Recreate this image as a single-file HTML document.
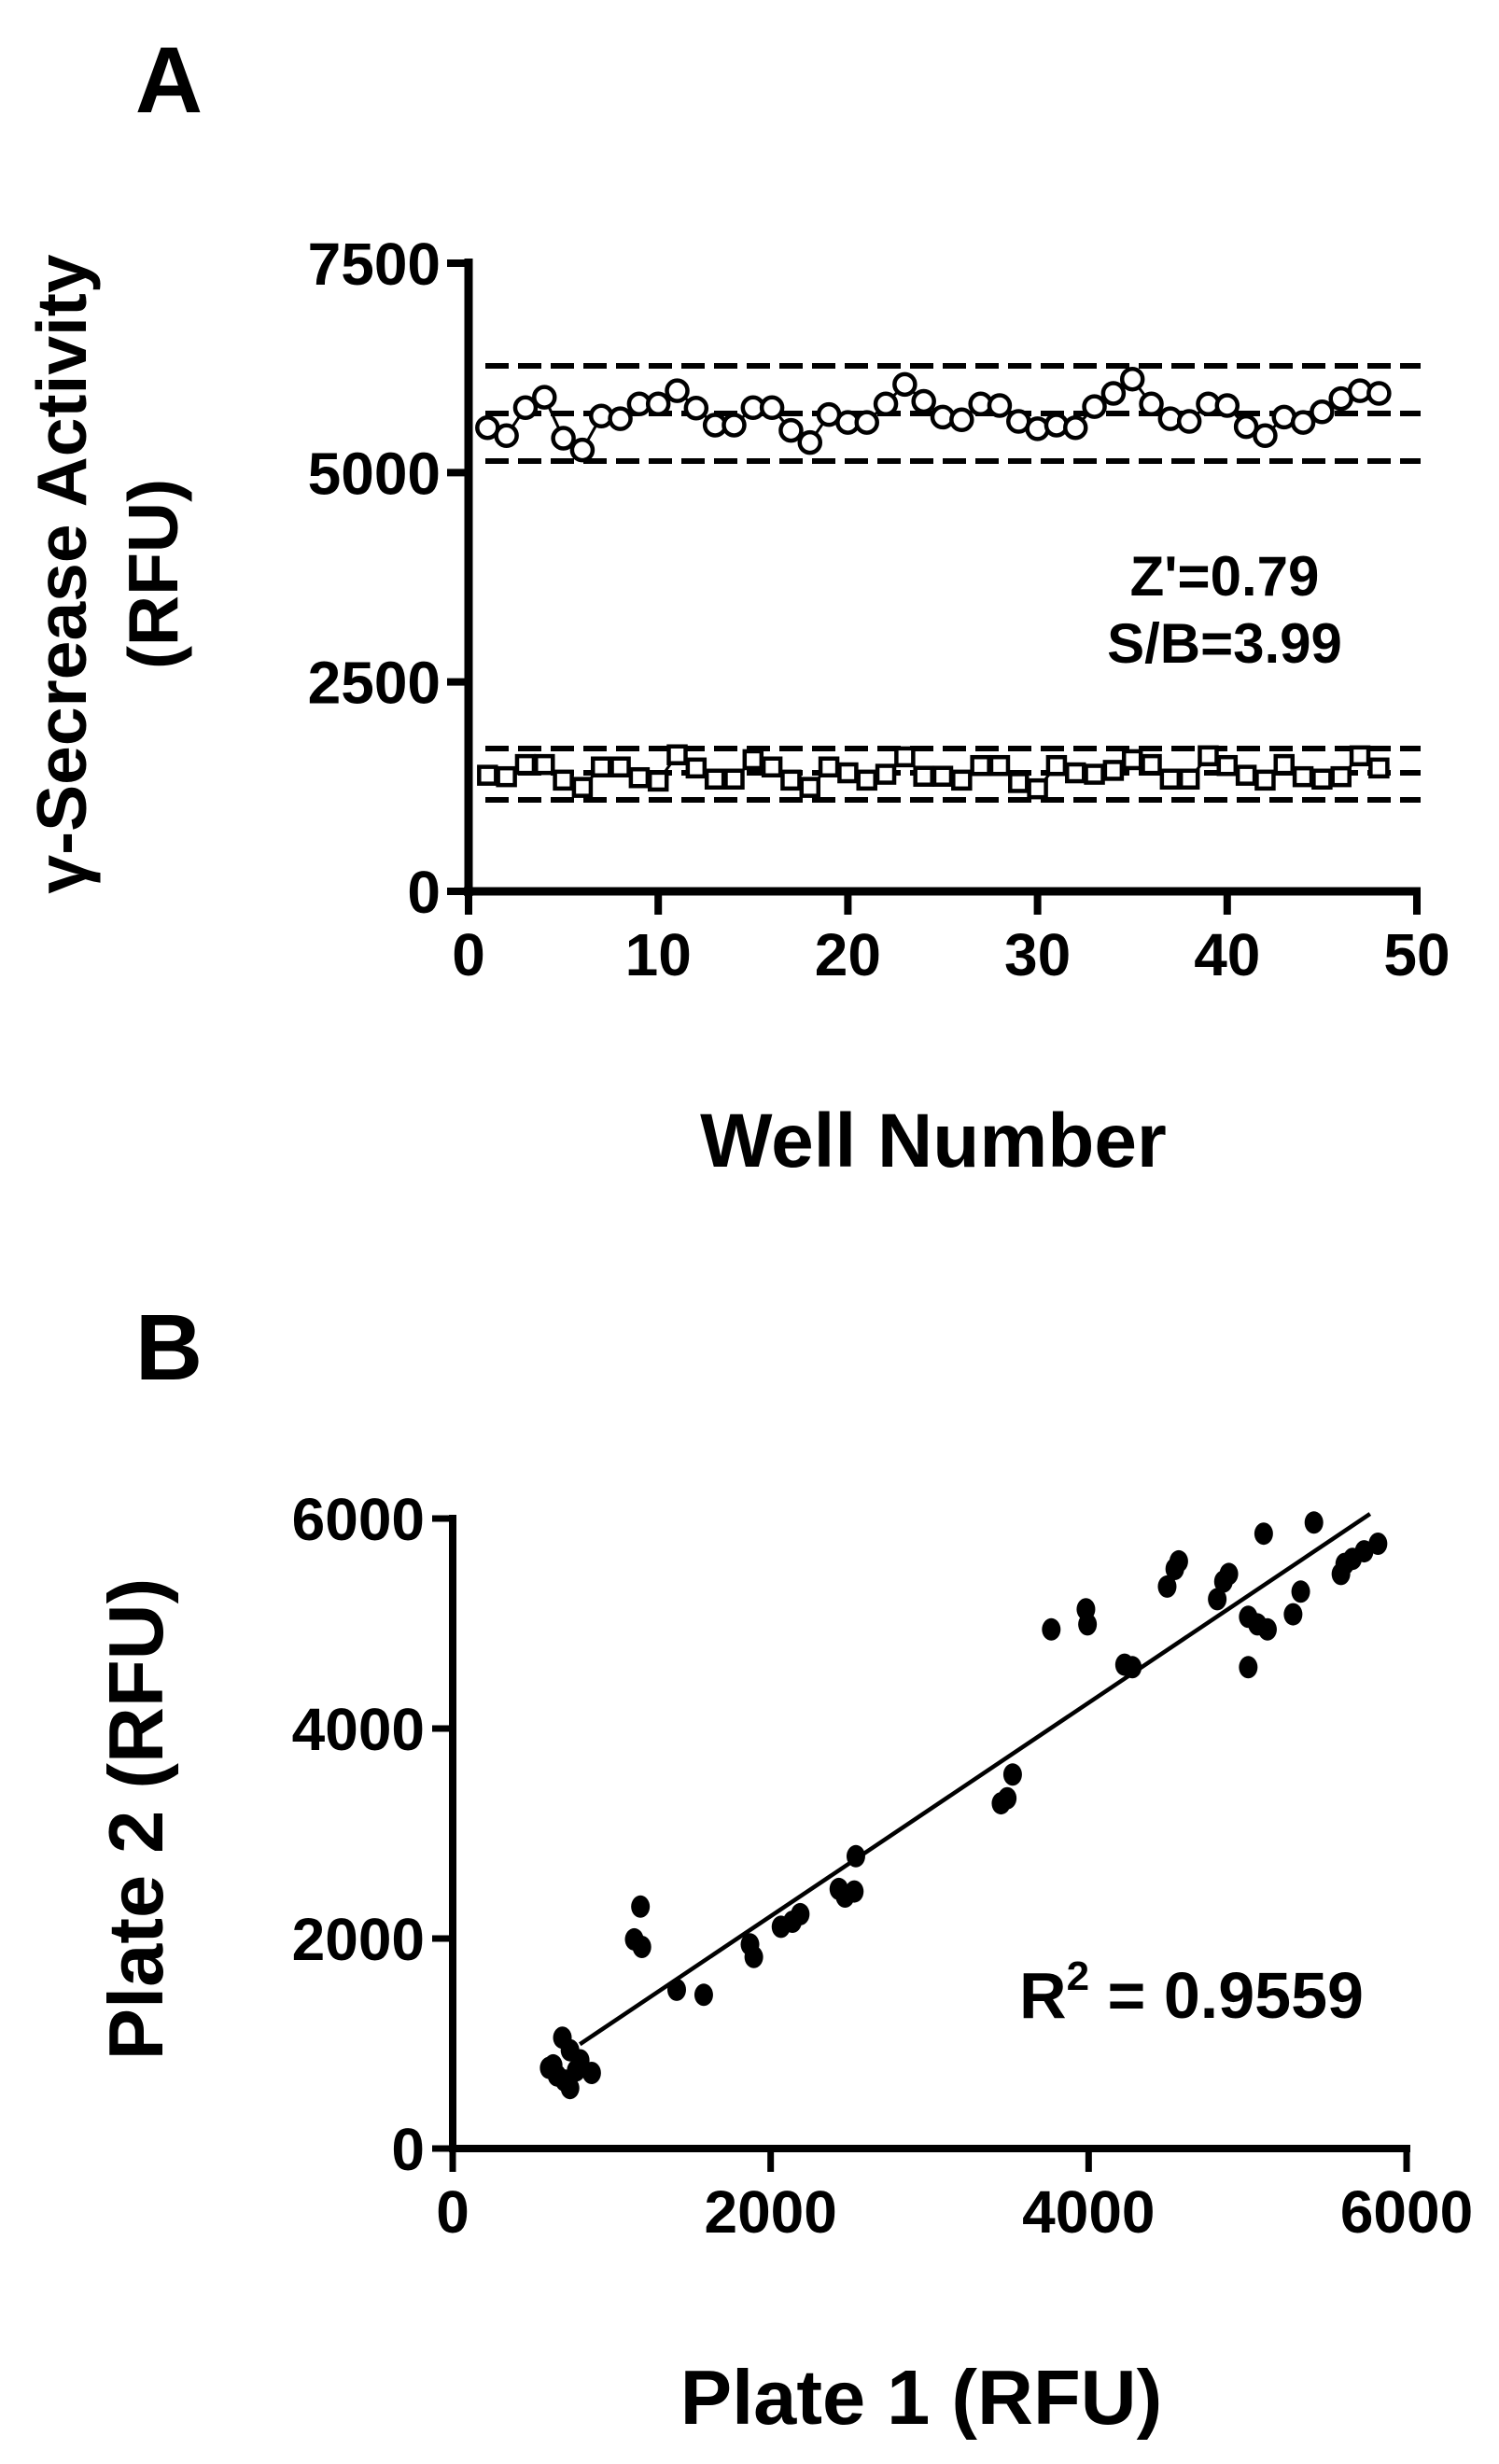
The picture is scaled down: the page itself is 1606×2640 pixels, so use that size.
<!DOCTYPE html>
<html><head><meta charset="utf-8"><style>
html,body{margin:0;padding:0;background:#fff;}
svg{display:block;font-family:"Liberation Sans",Arial,sans-serif;}
</style></head><body>
<svg id="fig" width="1606" height="2640" viewBox="0 0 1606 2640" xmlns="http://www.w3.org/2000/svg">
<g id="panelA"></g>
<g id="panelB"></g>
</svg>
<script>
// ---- Panel A data ----
const wells = [];
for (let i = 1; i <= 48; i++) wells.push(i);
const signalValues = [5536,5441,5775,5900,5410,5270,5675,5643,5820,5820,5977,5770,5567,5567,5775,5775,5504,5359,5693,5599,5599,5820,6053,5851,5662,5630,5820,5801,5611,5523,5567,5536,5788,5946,6116,5820,5643,5611,5820,5801,5548,5441,5662,5599,5725,5883,5977,5946];
const backgroundValues = [1386,1369,1514,1514,1328,1241,1485,1485,1357,1316,1630,1473,1340,1340,1572,1485,1328,1241,1485,1415,1328,1398,1606,1374,1374,1328,1502,1502,1299,1224,1502,1415,1398,1444,1572,1514,1340,1340,1618,1502,1386,1328,1514,1369,1340,1369,1618,1473];
const signalLimits = [6274,5706,5138];
const backgroundLimits = [1705,1415,1092];
const aYTicks = [0,2500,5000,7500];
const aXTicks = [0,10,20,30,40,50];
const aStats = ["Z'=0.79","S/B=3.99"];

// ---- Panel B data ----
const plate1 = [607,656,704,738,690,738,802,874,632,777,1142,1190,1181,1409,1579,1870,1894,2065,2137,2186,2429,2526,2536,2468,3449,3488,3522,3765,3983,3993,4226,4275,4494,4542,4567,4809,4848,4882,5004,5062,5125,5004,5101,5286,5334,5417,5587,5611,5660,5733,5820];
const plate2 = [768,696,648,576,1056,936,840,720,792,744,1992,1920,2304,1512,1464,1944,1824,2112,2160,2232,2472,2448,2784,2400,3288,3336,3562,4944,5136,4992,4608,4584,5352,5520,5592,5232,5400,5472,5064,4992,4944,4584,5856,5088,5304,5962,5472,5568,5616,5688,5760];
const fitRange = [800,5770];
const bTicks = [0,2000,4000,6000];
const rSquared = "0.9559";

const NS = "http://www.w3.org/2000/svg";
function mk(parent, tag, attrs, text) {
  const e = document.createElementNS(NS, tag);
  for (const k in attrs) e.setAttribute(k, attrs[k]);
  if (text !== undefined) e.textContent = text;
  parent.appendChild(e);
  return e;
}

// ===== Panel A =====
const A = document.getElementById('panelA');
const axA = v => 502 + (v / 50) * 1016;
const ayA = v => 955 - (v / 7500) * 673;

let t = mk(A, 'text', {x: 181, y: 120, 'font-size': 100, 'font-weight': 'bold', 'text-anchor': 'middle'}, 'A');



t = mk(A, 'text', {x: 0, y: 0, 'font-size': 75, 'font-weight': 'bold', 'text-anchor': 'middle', transform: 'translate(92,615) rotate(-90)'}, 'γ-Secrease Activity');


t = mk(A, 'text', {x: 0, y: 0, 'font-size': 75, 'font-weight': 'bold', 'text-anchor': 'middle', transform: 'translate(190,615) rotate(-90)'}, '(RFU)');



t = mk(A, 'text', {x: 1000, y: 1250, 'font-size': 82, 'font-weight': 'bold', 'text-anchor': 'middle'}, 'Well Number');



let ln = mk(A, 'line', {x1: axA(0), y1: ayA(7500) - 5, x2: axA(0), y2: ayA(0) + 5, stroke: '#000', 'stroke-width': 9});


ln = mk(A, 'line', {x1: axA(0) - 5, y1: ayA(0), x2: axA(50) + 4, y2: ayA(0), stroke: '#000', 'stroke-width': 9});



aYTicks.forEach(v => {
  const tk = mk(A, 'line', {x1: 479, y1: ayA(v), x2: axA(0), y2: ayA(v), stroke: '#000', 'stroke-width': 8});
  
  
  const lb = mk(A, 'text', {x: 472, y: ayA(v) + 23, 'font-size': 64, 'font-weight': 'bold', 'text-anchor': 'end'}, String(v));
  
  
});
aXTicks.forEach(v => {
  const tk = mk(A, 'line', {x1: axA(v), y1: ayA(0), x2: axA(v), y2: 980, stroke: '#000', 'stroke-width': 8});
  
  
  const lb = mk(A, 'text', {x: axA(v), y: 1045, 'font-size': 64, 'font-weight': 'bold', 'text-anchor': 'middle'}, String(v));
  
  
});

signalLimits.concat(backgroundLimits).forEach(v => {
  const d = mk(A, 'line', {x1: 520, y1: ayA(v), x2: 1522, y2: ayA(v), stroke: '#000', 'stroke-width': 6, 'stroke-dasharray': '25 10'});
  
  
});

let pts = signalValues.map((v, i) => axA(wells[i]) + ',' + ayA(v)).join(' ');
let pl = mk(A, 'polyline', {points: pts, fill: 'none', stroke: '#000', 'stroke-width': 3});


signalValues.forEach((v, i) => {
  const c = mk(A, 'circle', {cx: axA(wells[i]), cy: ayA(v), r: 11, fill: '#fff', stroke: '#000', 'stroke-width': 4.5});
  
  
});
pts = backgroundValues.map((v, i) => axA(wells[i]) + ',' + ayA(v)).join(' ');
pl = mk(A, 'polyline', {points: pts, fill: 'none', stroke: '#000', 'stroke-width': 3});


backgroundValues.forEach((v, i) => {
  const s = mk(A, 'rect', {x: axA(wells[i]) - 9, y: ayA(v) - 9, width: 18, height: 18, fill: '#fff', stroke: '#000', 'stroke-width': 4.5});
  
  
});

t = mk(A, 'text', {x: 1312, y: 638, 'font-size': 60, 'font-weight': 'bold', 'text-anchor': 'middle'}, aStats[0]);


t = mk(A, 'text', {x: 1312, y: 710, 'font-size': 60, 'font-weight': 'bold', 'text-anchor': 'middle'}, aStats[1]);



// ===== Panel B =====
const B = document.getElementById('panelB');
const bx = v => 485 + (v / 6000) * 1022;
const by = v => 2302 - (v / 6000) * 675;

t = mk(B, 'text', {x: 181, y: 1478, 'font-size': 100, 'font-weight': 'bold', 'text-anchor': 'middle'}, 'B');


t = mk(B, 'text', {x: 0, y: 0, 'font-size': 83, 'font-weight': 'bold', 'text-anchor': 'middle', transform: 'translate(174,1949) rotate(-90)'}, 'Plate 2 (RFU)');


t = mk(B, 'text', {x: 987, y: 2597, 'font-size': 83, 'font-weight': 'bold', 'text-anchor': 'middle'}, 'Plate 1 (RFU)');



ln = mk(B, 'line', {x1: bx(0), y1: by(6000) - 4, x2: bx(0), y2: by(0) + 4, stroke: '#000', 'stroke-width': 8});


ln = mk(B, 'line', {x1: bx(0) - 4, y1: by(0), x2: bx(6000) + 4, y2: by(0), stroke: '#000', 'stroke-width': 8});


bTicks.forEach(v => {
  let tk = mk(B, 'line', {x1: 463, y1: by(v), x2: bx(0), y2: by(v), stroke: '#000', 'stroke-width': 7});
  
  
  let lb = mk(B, 'text', {x: 455, y: by(v) + 23, 'font-size': 64, 'font-weight': 'bold', 'text-anchor': 'end'}, String(v));
  
  
  tk = mk(B, 'line', {x1: bx(v), y1: by(0), x2: bx(v), y2: 2327, stroke: '#000', 'stroke-width': 7});
  
  
  lb = mk(B, 'text', {x: bx(v), y: 2392, 'font-size': 64, 'font-weight': 'bold', 'text-anchor': 'middle'}, String(v));
  
  
});

const n = plate1.length;
const mx = plate1.reduce((a, b) => a + b, 0) / n;
const my = plate2.reduce((a, b) => a + b, 0) / n;
let sxy = 0, sxx = 0;
for (let i = 0; i < n; i++) { sxy += (plate1[i] - mx) * (plate2[i] - my); sxx += (plate1[i] - mx) ** 2; }
const slope = sxy / sxx, icpt = my - slope * mx;
ln = mk(B, 'line', {x1: bx(fitRange[0]), y1: by(icpt + slope * fitRange[0]), x2: bx(fitRange[1]), y2: by(icpt + slope * fitRange[1]), stroke: '#000', 'stroke-width': 4.5});



plate1.forEach((v, i) => {
  const c = mk(B, 'ellipse', {cx: bx(v), cy: by(plate2[i]), rx: 10, ry: 12, fill: '#000'});
  
  
});

t = mk(B, 'text', {x: 1092, y: 2162, 'font-size': 70, 'font-weight': 'bold'});


mk(t, 'tspan', {}, 'R');
mk(t, 'tspan', {dy: -30, 'font-size': 44}, '2');
mk(t, 'tspan', {dy: 30}, ' = ' + rSquared);
</script>
</body></html>
